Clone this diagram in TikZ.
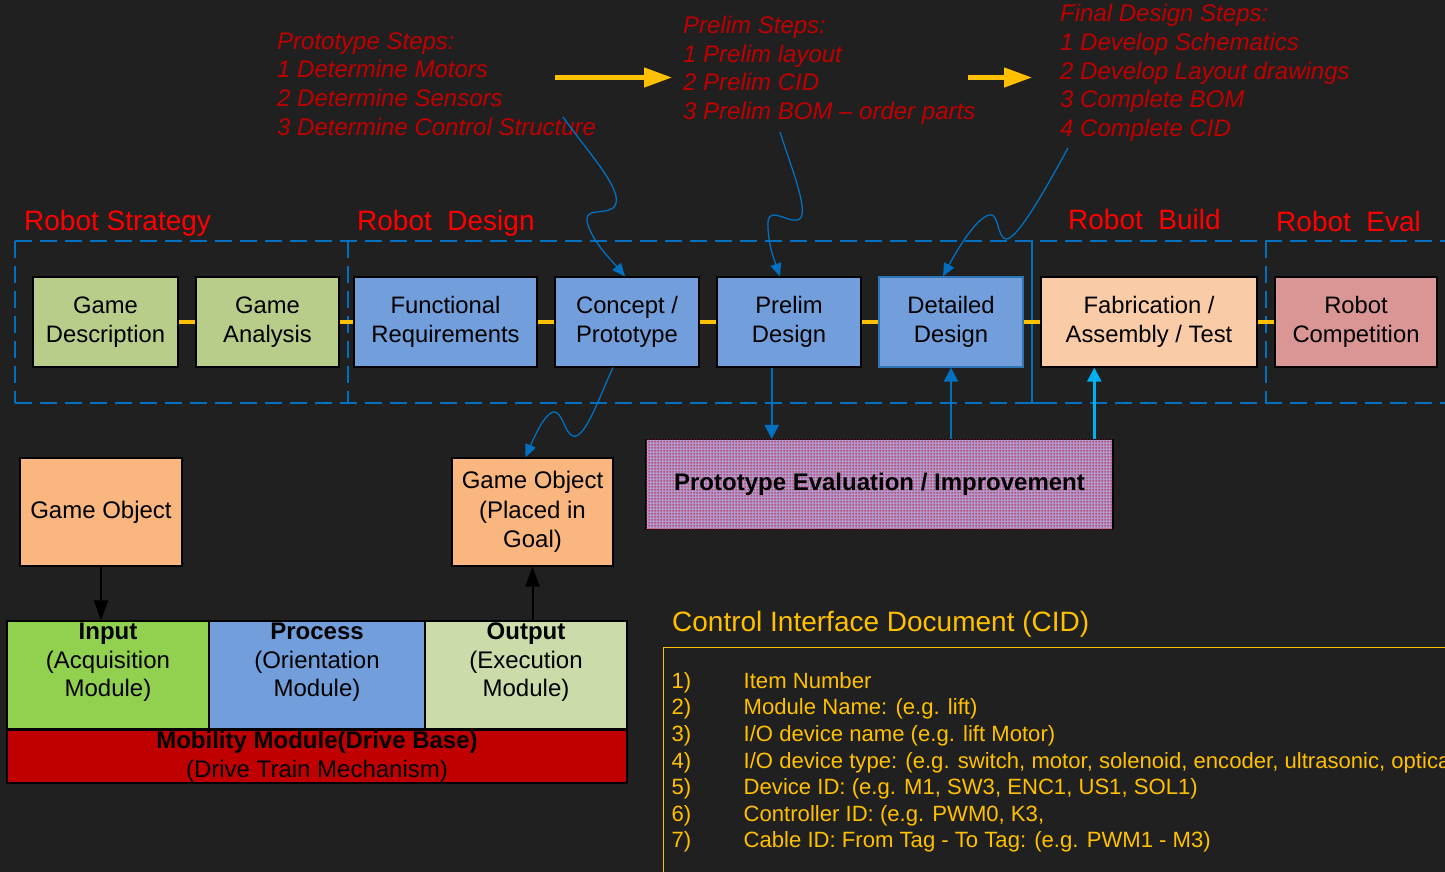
\documentclass[tikz,border=0pt]{standalone}
\usepackage{fontspec}
\setmainfont{Liberation Sans}
\usetikzlibrary{arrows.meta,patterns}
\definecolor{bg}{RGB}{33,32,33}
\definecolor{dashblue}{RGB}{0,112,192}
\definecolor{cyanblue}{RGB}{0,176,240}
\definecolor{lnyellow}{RGB}{255,192,0}
\definecolor{lblred}{RGB}{255,0,0}
\definecolor{stepred}{RGB}{192,0,0}
\definecolor{olivebox}{RGB}{185,205,139}
\definecolor{bluebox}{RGB}{114,159,219}
\definecolor{ddborder}{RGB}{46,117,182}
\definecolor{fabbox}{RGB}{249,203,166}
\definecolor{compbox}{RGB}{217,150,148}
\definecolor{gobox}{RGB}{249,182,127}
\definecolor{inbox}{RGB}{146,208,80}
\definecolor{outbox}{RGB}{203,220,170}
\definecolor{mobbox}{RGB}{192,0,0}
\definecolor{pebase}{RGB}{172,160,214}
\definecolor{pegrid}{RGB}{196,45,75}
\pgfdeclarepatternformonly{finegrid}{\pgfpointorigin}{\pgfqpoint{3pt}{3pt}}{\pgfqpoint{3pt}{3pt}}{%
  \pgfsetlinewidth{0.8pt}%
  \pgfpathmoveto{\pgfqpoint{0pt}{1.5pt}}\pgfpathlineto{\pgfqpoint{3pt}{1.5pt}}%
  \pgfpathmoveto{\pgfqpoint{1.5pt}{0pt}}\pgfpathlineto{\pgfqpoint{1.5pt}{3pt}}%
  \pgfusepath{stroke}}
\newcommand\fsz[2]{\fontsize{#1}{#2}\selectfont}
\begin{document}
\begin{tikzpicture}[x=1pt,y=-1pt,
  box/.style={draw=black, line width=1.2pt, inner sep=0pt, align=center, text=black, font=\fsz{23.8}{28.7}},
  modbox/.style={draw=black, line width=1.2pt, inner sep=0pt},
  modtext/.style={inner sep=0pt, align=center, text=black, font=\fsz{24}{28.5}},
  dashln/.style={draw=dashblue, line width=2.3pt, dash pattern=on 17pt off 8pt},
  ylink/.style={draw=lnyellow, line width=3.5pt},
  bigyarrow/.style={draw=lnyellow, line width=4.5pt, -{Triangle[length=28pt,width=19pt]}},
  curvy/.style={draw=dashblue, line width=1.3pt, -{Triangle[length=13pt,width=11pt]}},
  barrow/.style={draw=dashblue, line width=2.4pt, -{Triangle[length=14pt,width=14pt]}},
  carrow/.style={draw=cyanblue, line width=2.4pt, -{Triangle[length=14pt,width=14pt]}},
  karrow/.style={draw=black, line width=2pt, -{Triangle[length=20pt,width=14pt]}},
  seclabel/.style={inner sep=0pt, anchor=base west, text=lblred, font=\fsz{28}{34}},
  steps/.style={inner sep=0pt, anchor=north west, align=left, text=stepred, font=\fsz{24}{28.6}\itshape},
  cidtxt/.style={inner sep=0pt, anchor=base west, text=lnyellow, font=\fsz{22.1}{26}},
]
\useasboundingbox (0,0) rectangle (1445,872);
\fill[bg] (0,0) rectangle (1445,872);
\clip (0,0) rectangle (1445,872);

% section frames
\draw[dashln] (15,241) -- (1460,241);
\draw[dashln] (15,403) -- (1460,403);
\draw[dashln] (15,241) -- (15,403);
\draw[dashln] (348,241) -- (348,403);
\draw[dashln] (1266,241) -- (1266,403);
\draw[draw=dashblue, line width=2.3pt] (1025,241) -- (1032,241) -- (1032,403) -- (1042,403);

% section labels
\node[seclabel] (lstrat) at (24,230) {Robot Strategy};
\node[seclabel] (ldes) at (357,230) {Robot\ \ Design};
\node[seclabel] (lbuild) at (1068,229) {Robot\ \ Build};
\node[seclabel] (leval) at (1276,231) {Robot\ \ Eval};

% main row
\node[box, fill=olivebox, minimum width=145, minimum height=90] (gd) at (105.5,322) {Game\\Description};
\node[box, fill=olivebox, minimum width=143, minimum height=90] (ga) at (267.5,322) {Game\\Analysis};
\node[box, fill=bluebox, minimum width=183, minimum height=90] (fr) at (445.5,322) {Functional\\Requirements};
\node[box, fill=bluebox, minimum width=144, minimum height=90] (cp) at (627,322) {Concept /\\Prototype};
\node[box, fill=bluebox, minimum width=144, minimum height=90] (pd) at (789,322) {Prelim\\Design};
\node[box, fill=bluebox, draw=ddborder, minimum width=144, minimum height=90] (dd) at (951,322) {Detailed\\Design};
\node[box, fill=fabbox, minimum width=216, minimum height=90] (fa) at (1149,322) {Fabrication /\\Assembly / Test};
\node[box, fill=compbox, minimum width=162, minimum height=90] (rc) at (1356,322) {Robot\\Competition};

\draw[ylink] (gd.east) -- (ga.west);
\draw[ylink] (ga.east) -- (fr.west);
\draw[ylink] (fr.east) -- (cp.west);
\draw[ylink] (cp.east) -- (pd.west);
\draw[ylink] (pd.east) -- (dd.west);
\draw[ylink] (dd.east) -- (fa.west);
\draw[ylink] (fa.east) -- (rc.west);

% step texts
\node[steps] (sproto) at (277,32.3) {Prototype Steps:\\1 Determine Motors\\2 Determine Sensors\\3 Determine Control Structure};
\node[steps] (sprelim) at (683,16) {Prelim Steps:\\1 Prelim layout\\2 Prelim CID\\3 Prelim BOM -- order parts};
\node[steps] (sfinal) at (1060,4.3) {Final Design Steps:\\1 Develop Schematics\\2 Develop Layout drawings\\3 Complete BOM\\4 Complete CID};

% yellow flow arrows
\coordinate (ya1s) at (555,77.5);
\coordinate (ya1e) at (672,77.5);
\coordinate (ya2s) at (968,77.5);
\coordinate (ya2e) at (1032,77.5);
\draw[bigyarrow] (ya1s) -- (ya1e);
\draw[bigyarrow] (ya2s) -- (ya2e);

% curvy blue arrows
\coordinate (c1s) at (563,117);
\coordinate (c2s) at (780,132);
\coordinate (c3s) at (1068,148);
\draw[curvy] (c1s) .. controls (590,155) and (628,195) .. (613,208) .. controls (602,216) and (580,205) .. (589,228) .. controls (597,247) and (613,262) .. ([xshift=-2pt]cp.north);
\draw[curvy] (c2s) .. controls (792,170) and (812,218) .. (797,220) .. controls (785,222) and (766,203) .. (768,228) .. controls (769,248) and (775,262) .. ([xshift=-9pt]pd.north);
\draw[curvy] (c3s) .. controls (1045,190) and (1017,240) .. (1006,239) .. controls (997,238) and (999,212) .. (989,215) .. controls (975,219) and (956,252) .. ([xshift=-8pt]dd.north);

% prototype evaluation
\node[box, fill=pebase, postaction={pattern=finegrid, pattern color=pegrid}, minimum width=467, minimum height=90, font=\fsz{24}{28}\bfseries] (pe) at (879.5,484.5) {Prototype Evaluation / Improvement};

\path (pd.south) ++(-17.3,0) coordinate (a1s);
\draw[barrow] (a1s) -- (a1s |- pe.north);
\draw[barrow] (pe.north -| dd.south) -- (dd.south);
\path (fa.south) ++(-54.7,0) coordinate (a3e);
\draw[carrow] (a3e |- pe.north) -- (a3e);

% game objects
\node[box, fill=gobox, minimum width=162, minimum height=108, font=\fsz{24}{29.5}] (go) at (101,512) {Game Object};
\node[box, fill=gobox, minimum width=161, minimum height=108, font=\fsz{24}{29.5}] (gop) at (532.5,512) {Game Object\\(Placed in\\Goal)};

\draw[curvy] ([xshift=-14pt]cp.south) .. controls (600,395) and (585,440) .. (573,436) .. controls (565,434) and (562,410) .. (553,412) .. controls (545,414) and (535,435) .. ([xshift=-7pt]gop.north);

% modules
\node[modbox, fill=inbox, minimum width=202, minimum height=108] (in) at (108,675) {};
\node[modbox, fill=bluebox, minimum width=216, minimum height=108] (pr) at (317,675) {};
\node[modbox, fill=outbox, minimum width=202, minimum height=108] (out) at (526,675) {};
\node[modbox, fill=mobbox, minimum width=620, minimum height=53, align=center, font=\fsz{24}{29}] (mob) at (317,756.5) {\textbf{Mobility Module(Drive Base)}\\(Drive Train Mechanism)};
\node[modtext, anchor=north] (intx) at (in.north) [yshift=-2.5pt] {\textbf{Input}\\(Acquisition\\Module)};
\node[modtext, anchor=north] (prtx) at (pr.north) [yshift=-2.5pt] {\textbf{Process}\\(Orientation\\Module)};
\node[modtext, anchor=north] (outtx) at (out.north) [yshift=-2.5pt] {\textbf{Output}\\(Execution\\Module)};

\draw[karrow] (go.south) -- (go.south |- in.north);
\draw[karrow] (gop.south |- out.north) -- (gop.south);

% CID
\node[inner sep=0pt, anchor=base west, text=lnyellow, font=\fsz{28}{32}] (cidt) at (672,631) {Control Interface Document (CID)};
\coordinate (cidtr) at (1460,647.5);
\coordinate (cidtl) at (663.5,647.5);
\coordinate (cidbl) at (663.5,890);
\draw[draw=lnyellow, line width=1.4pt] (cidtr) -- (cidtl) -- (cidbl);
\foreach \n/\t [count=\i from 0] in {1)/Item Number, 2)/{Module Name: (e.g. lift)}, 3)/{I/O device name (e.g. lift Motor)}, 4)/{I/O device type: (e.g. switch, motor, solenoid, encoder, ultrasonic, optical)}, 5)/{Device ID: (e.g. M1, SW3, ENC1, US1, SOL1)}, 6)/{Controller ID: (e.g. PWM0, K3,}, 7)/{Cable ID: From Tag - To Tag: (e.g. PWM1 - M3)}}{
  \node[cidtxt] (cidn\i) at (671.5,688.3+26.57*\i) {\n};
  \node[cidtxt] (cidl\i) at (743.5,688.3+26.57*\i) {\t};
}
\end{tikzpicture}
\end{document}
